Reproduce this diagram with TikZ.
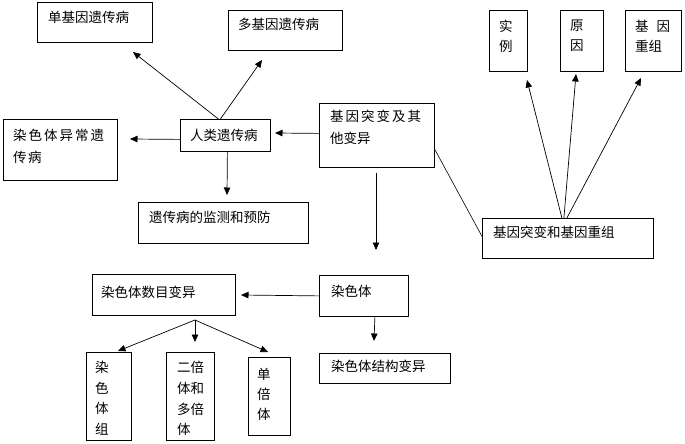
\documentclass[tikz,border=0pt]{standalone}
\usepackage{fontspec}
\newfontfamily\cjk{Noto Sans CJK SC}
\usetikzlibrary{arrows.meta}
\begin{document}
\begin{tikzpicture}[x=1pt,y=-1pt,
  box/.style={draw, line width=0.8pt, anchor=north west, inner sep=0pt},
  txt/.style={anchor=north west, inner sep=0pt, align=left, font=\cjk\fontsize{13.5}{21}\selectfont},
  arr/.style={line width=0.7pt, -{Triangle[length=7.5pt,width=6.5pt]}},
  ln/.style={line width=0.6pt}]
\useasboundingbox (0,0) rectangle (685,444);
% boxes
\node[box, minimum width=115pt, minimum height=40pt] (dan) at (37,2) {};
\node[box, minimum width=114pt, minimum height=40pt] (duo) at (228,10) {};
\node[box, minimum width=114pt, minimum height=61pt] (ran) at (3,119) {};
\node[box, minimum width=90pt, minimum height=32pt] (hum) at (180,119) {};
\node[box, minimum width=170pt, minimum height=41pt] (jc) at (138,202) {};
\node[box, minimum width=115pt, minimum height=64pt] (gene) at (319,103) {};
\node[box, minimum width=38pt, minimum height=61pt] (sl) at (489,10) {};
\node[box, minimum width=43pt, minimum height=61pt] (yy) at (560,10) {};
\node[box, minimum width=56pt, minimum height=61pt] (cz) at (625,10) {};
\node[box, minimum width=171pt, minimum height=40pt] (rec) at (482,218) {};
\node[box, minimum width=143pt, minimum height=41pt] (num) at (92,274) {};
\node[box, minimum width=89pt, minimum height=41pt] (chr) at (319,275) {};
\node[box, minimum width=131pt, minimum height=30pt] (jg) at (319,353) {};
\node[box, minimum width=45pt, minimum height=88pt] (zu) at (86,352) {};
\node[box, minimum width=48pt, minimum height=88pt] (eb) at (166,352) {};
\node[box, minimum width=42pt, minimum height=78pt] (db) at (248,357) {};
% texts
\node[txt] (t1) at (48,11) {单基因遗传病};
\node[txt] (t2) at (238,18) {多基因遗传病};
\node[txt, font=\cjk\fontsize{13.5}{22}\selectfont] (t3) at (13,129) {染\hspace{2pt}色\hspace{2pt}体\hspace{2pt}异\hspace{2pt}常\hspace{2pt}遗\\传\hspace{1.5pt}病};
\node[txt] (t4) at (190,129) {人类遗传病};
\node[txt] (t5) at (149,211) {遗传病的监测和预防};
\node[txt, font=\cjk\fontsize{13.5}{22}\selectfont] (t6) at (330,110) {基\hspace{2pt}因\hspace{2pt}突\hspace{2pt}变\hspace{2pt}及\hspace{2pt}其\\他变异};
\node[txt, font=\cjk\fontsize{13.5}{20}\selectfont] (t7) at (499,20) {实\\例};
\node[txt, font=\cjk\fontsize{13.5}{20}\selectfont] (t8) at (570,20) {原\\因};
\node[txt, font=\cjk\fontsize{13.5}{20}\selectfont] (t9) at (635,20) {基\hspace{8pt}因\\重组};
\node[txt] (t10) at (493,226) {基因突变和基因重组};
\node[txt] (t11) at (101,286) {染色体数目变异};
\node[txt] (t12) at (331,285) {染色体};
\node[txt] (t13) at (331,360) {染色体结构变异};
\node[txt, font=\cjk\fontsize{13.5}{20.7}\selectfont] (t14) at (95,361) {染\\色\\体\\组};
\node[txt, font=\cjk\fontsize{13.5}{20.7}\selectfont] (t15) at (177,361) {二倍\\体和\\多倍\\体};
\node[txt, font=\cjk\fontsize{13.5}{20}\selectfont] (t16) at (257,368) {单\\倍\\体};
% free ends
\coordinate (e1) at (133,52);
\coordinate (e2) at (262,60);
\coordinate (e3) at (130,139);
\coordinate (e4) at (227,195);
\coordinate (e5) at (275,133);
\coordinate (s6) at (376,173);
\coordinate (e6) at (376,250);
\coordinate (e7) at (527,80);
\coordinate (e8) at (576,74);
\coordinate (e9) at (641,78);
\coordinate (e10) at (241,295);
\coordinate (e11) at (374,341);
\coordinate (s12) at (195,320);
\coordinate (e12) at (118,351);
\coordinate (e13) at (195,342);
\coordinate (e14) at (268,352);
% connectors
\draw[arr] ([xshift=-7pt]hum.north) -- (e1);
\draw[arr] ([xshift=-5pt]hum.north) -- (e2);
\draw[arr] ([yshift=-4pt]hum.west) -- (e3);
\draw[arr] ([xshift=2pt]hum.south) -- (e4);
\draw[arr] ([yshift=2pt]gene.west) -- (e5);
\draw[arr] (s6) -- (e6);
\draw[ln] ([yshift=-14pt]gene.east) -- ([yshift=2pt]rec.west);
\draw[arr] ([xshift=-6pt]rec.north) -- (e7);
\draw[arr] ([xshift=-4pt]rec.north) -- (e8);
\draw[arr] ([xshift=-1pt]rec.north) -- (e9);
\draw[arr] (chr.west) -- (e10);
\draw[arr] ([xshift=11pt]chr.south) -- (e11);
\draw[arr] (s12) -- (e12);
\draw[arr] (s12) -- (e13);
\draw[arr] (s12) -- (e14);
\end{tikzpicture}
\end{document}
